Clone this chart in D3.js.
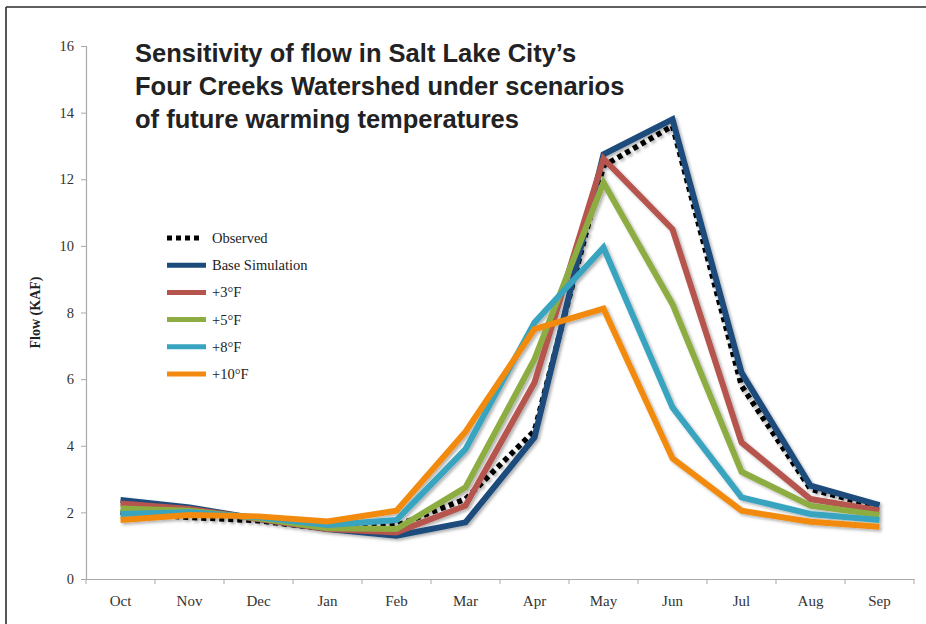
<!DOCTYPE html>
<html>
<head>
<meta charset="utf-8">
<script src="https://cdn.jsdelivr.net/npm/d3@7"></script>
<style>
  html, body { margin: 0; padding: 0; background: #fff; }
  svg { display: block; }
</style>
</head>
<body>
<svg id="chart" width="926" height="624"></svg>
<script>
// Monthly flow (KAF), water year Oct–Sep
const months = ["Oct","Nov","Dec","Jan","Feb","Mar","Apr","May","Jun","Jul","Aug","Sep"];
const observed  = [2.0, 1.85, 1.75, 1.5, 1.6, 2.4, 4.45, 12.4, 13.6, 5.8, 2.7, 2.15];
const baseSim   = [2.37, 2.15, 1.8, 1.5, 1.3, 1.7, 4.25, 12.75, 13.8, 6.2, 2.8, 2.22];
const plus3F    = [2.27, 2.1, 1.8, 1.5, 1.4, 2.2, 5.9, 12.62, 10.5, 4.1, 2.4, 2.06];
const plus5F    = [2.12, 2.05, 1.82, 1.52, 1.5, 2.75, 6.6, 11.9, 8.25, 3.22, 2.2, 1.92];
const plus8F    = [1.95, 2.0, 1.85, 1.62, 1.77, 3.9, 7.7, 9.95, 5.15, 2.45, 1.95, 1.77];
const plus10F   = [1.77, 1.92, 1.88, 1.73, 2.05, 4.42, 7.5, 8.12, 3.62, 2.05, 1.72, 1.57];
const yTicks = [0, 2, 4, 6, 8, 10, 12, 14, 16];

const seriesNames  = ["Observed", "Base Simulation", "+3°F", "+5°F", "+8°F", "+10°F"];
const seriesValues = [observed, baseSim, plus3F, plus5F, plus8F, plus10F];
const seriesColors = ["#000000", "#1a4b7b", "#b5544d", "#8dad42", "#38a4bf", "#f18a0e"];

const svg = d3.select("#chart");
const margin = { left: 86, right: 12, top: 46, bottom: 45 };
const W = 926, H = 624;

// Frame lines along the top and left edge
svg.append("line").attr("x1", 6).attr("x2", W).attr("y1", 7).attr("y2", 7)
  .attr("stroke", "#2b2b2b").attr("stroke-width", 1.6);
svg.append("line").attr("x1", 6).attr("x2", 6).attr("y1", 7).attr("y2", H)
  .attr("stroke", "#2b2b2b").attr("stroke-width", 1.6);

const x = d3.scaleBand().domain(months).range([margin.left, 914]).padding(0);
const y = d3.scaleLinear().domain([0, 16]).range([579, margin.top]);

// Soft drop shadow under the series lines
const defs = svg.append("defs");
const f = defs.append("filter").attr("id", "shadow")
  .attr("x", "-10%").attr("y", "-10%").attr("width", "130%").attr("height", "130%");
f.append("feDropShadow").attr("dx", 2).attr("dy", 2).attr("stdDeviation", 1.4)
  .attr("flood-color", "#000").attr("flood-opacity", 0.3);

// Y axis
const yAxis = svg.append("g").attr("transform", `translate(${margin.left},0)`)
  .call(d3.axisLeft(y).tickValues(yTicks).tickSize(5).tickPadding(7));
// X axis
const xAxis = svg.append("g").attr("transform", `translate(0,${y(0)})`)
  .call(d3.axisBottom(x).tickSize(0).tickPadding(16));
// Tick marks sit between the months
svg.append("g").selectAll("line")
  .data(d3.range(months.length + 1))
  .join("line")
  .attr("x1", i => margin.left + i * x.step())
  .attr("x2", i => margin.left + i * x.step())
  .attr("y1", y(0)).attr("y2", y(0) + 5)
  .attr("stroke", "#a9a9a9").attr("stroke-width", 1);

[yAxis, xAxis].forEach(g => {
  g.select(".domain").attr("stroke", "#a9a9a9").attr("stroke-width", 1.2);
  g.selectAll(".tick line").attr("stroke", "#a9a9a9");
  g.selectAll("text").attr("font-family", "'Liberation Serif', 'Times New Roman', serif")
    .attr("font-size", 14.5).attr("fill", "#333");
});
xAxis.selectAll("text").attr("font-size", 15);

// Y axis title
svg.append("text")
  .attr("transform", `translate(40,${y(8)}) rotate(-90)`)
  .attr("text-anchor", "middle")
  .attr("font-family", "'Liberation Serif', 'Times New Roman', serif")
  .attr("font-weight", "bold").attr("font-size", 14).attr("fill", "#222")
  .text("Flow (KAF)");

// Series lines
const line = d3.line()
  .x((d, i) => x(months[i]) + x.bandwidth() / 2)
  .y(d => y(d));

const lines = svg.append("g").attr("filter", "url(#shadow)");
seriesValues.forEach((vals, k) => {
  const p = lines.append("path")
    .datum(vals)
    .attr("d", line)
    .attr("fill", "none")
    .attr("stroke", seriesColors[k])
    .attr("stroke-width", k === 0 ? 5.5 : 6)
    .attr("stroke-linejoin", "miter")
    .attr("stroke-linecap", "butt");
  if (k === 0) p.attr("stroke-dasharray", "5,4");
});

// Legend
const legend = svg.append("g");
seriesNames.forEach((name, k) => {
  const ly = 238 + k * 27.2;
  const l = legend.append("line")
    .attr("x1", 167).attr("x2", 206).attr("y1", ly).attr("y2", ly)
    .attr("stroke", seriesColors[k]).attr("stroke-width", 5);
  if (k === 0) l.attr("stroke-dasharray", "5,4").attr("x2", 203);
  legend.append("text")
    .attr("x", 212).attr("y", ly + 5)
    .attr("font-family", "'Liberation Serif', 'Times New Roman', serif")
    .attr("font-size", 14.5).attr("fill", "#222")
    .text(name);
});

// Title
const titleLines = [
  "Sensitivity of flow in Salt Lake City’s",
  "Four Creeks Watershed under scenarios",
  "of future warming temperatures"
];
svg.append("g").selectAll("text")
  .data(titleLines)
  .join("text")
  .attr("x", 135)
  .attr("y", (d, i) => 62 + i * 33)
  .attr("font-family", "'Liberation Sans', Arial, Helvetica, sans-serif")
  .attr("font-weight", "bold")
  .attr("font-size", 25.5)
  .attr("fill", "#222")
  .text(d => d);
</script>
</body>
</html>
